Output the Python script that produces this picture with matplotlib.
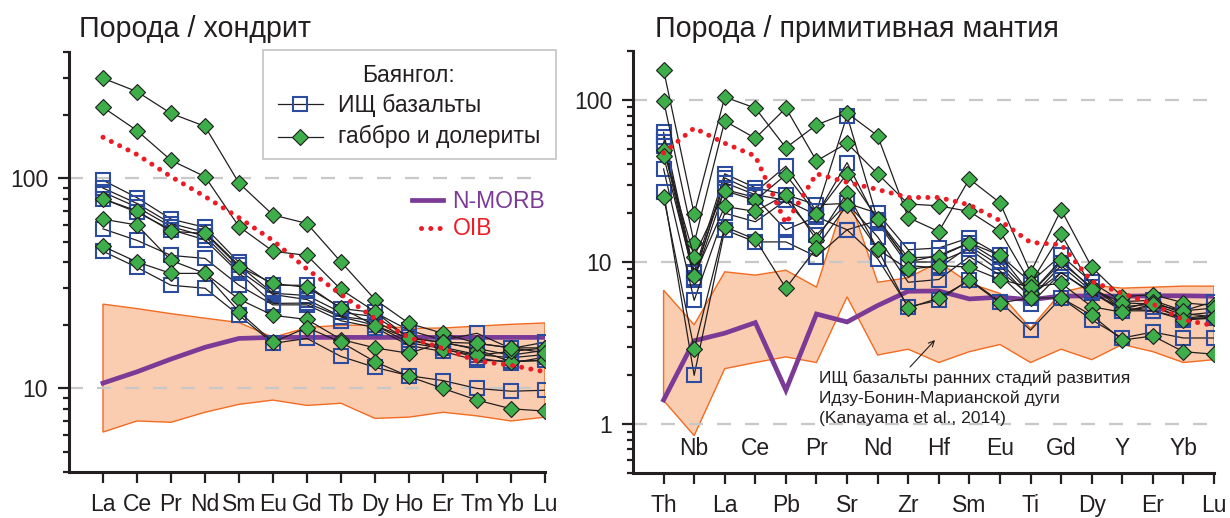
import matplotlib
matplotlib.use("Agg")
import matplotlib.pyplot as plt
from matplotlib.patches import Rectangle
from matplotlib.lines import Line2D
from matplotlib.ticker import FixedLocator, LogLocator, NullFormatter
from matplotlib.transforms import blended_transform_factory

plt.rcParams['font.family'] = ['Liberation Sans', 'DejaVu Sans']

# ---------------- chondrite-normalised REE ----------------
ree = ['La', 'Ce', 'Pr', 'Nd', 'Sm', 'Eu', 'Gd', 'Tb', 'Dy', 'Ho', 'Er', 'Tm', 'Yb', 'Lu']

ree_basalt = [
    [98, 81, 64, 58.5, 39.8, 31, 31, 24, 23, 18.9, 17, 18.3, 15.5, 16.6],
    [90, 76, 61, 55.4, 38.6, 28.4, 27.7, 23, 22, 17.5, 16.5, 15.5, 14.4, 15.2],
    [86, 73, 59, 53, 36.5, 28, 26.5, 22, 21, 17, 15.7, 14.5, 14.0, 14.5],
    [80, 69, 57, 51, 35.5, 25.4, 25.5, 21.9, 20, 16.5, 15.5, 14.0, 13.2, 14.1],
    [57.5, 50.7, 43, 41.6, 31, 25, 25, 21, 19.5, 16, 15, 13.6, 13.5, 13.6],
    [45, 37.7, 31, 30, 22.3, 16.4, 17.3, 14.2, 12.6, 11.5, 10.9, 10, 9.7, 9.8],
]
ree_gabbro = [
    [300, 259, 204, 177, 95, 67, 61, 40, 26.5, 20.4, 18.3, 16.4, 15.6, 15.6],
    [218, 169, 122, 102, 59, 45, 43, 29.6, 23.2, 17.3, 16.6, 15.3, 13.4, 13.6],
    [80, 70, 56, 54.7, 38, 31.6, 30.3, 24.2, 19.9, 17.3, 15.3, 14.4, 15.0, 15.6],
    [64, 60, 40.7, 35.3, 26.6, 22.3, 21.3, 17.1, 15.6, 14.7, 16.6, 16.4, 15.6, 14.8],
    [47.5, 40, 35.3, 35.3, 23.2, 16.6, 19.5, 16.6, 13.4, 11.4, 10, 8.8, 8.0, 7.8],
]
ree_oib = [157, 130, 102, 82, 65, 50.6, 37, 28, 21.5, 17.5, 15.5, 13.5, 12.9, 12]
ree_nmorb = [10.6, 12.0, 13.8, 15.7, 17.3, 17.5, 17.5, 17.5, 17.5, 17.5, 17.5, 17.5, 17.5, 17.5]
ree_arc_hi = [25.2, 24, 22.7, 21.6, 20.6, 17.5, 19.5, 20, 20, 19.3, 19.4, 19.8, 20.2, 20.5]
ree_arc_lo = [6.2, 7.0, 6.9, 7.7, 8.4, 8.8, 8.3, 8.5, 7.2, 7.3, 7.7, 7.4, 7.0, 7.3]

# ---------------- primitive-mantle-normalised spidergram ----------------
spider = ['Th', 'Nb', 'La', 'Ce', 'Pb', 'Pr', 'Sr', 'Nd', 'Zr', 'Hf',
          'Sm', 'Eu', 'Ti', 'Gd', 'Dy', 'Y', 'Er', 'Yb', 'Lu']

pm_basalt = [
    [63, 8.7, 35, 28.7, 26, 22.5, 23, 20, 11.9, 12.2, 14.1, 11.0, 7.5, 11.0, 7.5, 5.7, 5.8, 5.0, 5.7],
    [59, 8.0, 33, 27, 39, 20.5, 80, 18.2, 10, 11, 13.1, 10.0, 6.4, 9.9, 7.0, 5.3, 5.5, 4.7, 4.9],
    [55, 8.5, 30.8, 26, 24, 19.5, 41, 17.5, 9.5, 9.2, 12.5, 9.5, 6.0, 9.5, 6.6, 5.0, 5.3, 4.5, 4.7],
    [52, 7.8, 28, 25, 15.8, 19, 15.8, 18, 10, 10, 12, 8.8, 6.2, 8.6, 6.5, 5.0, 5.0, 4.4, 4.6],
    [37.5, 5.8, 20, 17.7, 24, 14.7, 23, 14.3, 7.5, 7.8, 10.8, 8.3, 5.5, 8.6, 6.4, 5.2, 5.0, 4.5, 4.5],
    [27, 2.0, 15.8, 13.3, 13.3, 10.8, 15.8, 10.5, 5.3, 5.8, 7.8, 5.7, 3.8, 6.0, 4.4, 3.4, 3.7, 3.4, 3.4],
]
pm_gabbro = [
    [153, 19.8, 104, 89, 50.6, 70, 83, 60, 18.8, 15.4, 32.5, 23.2, 8.6, 21, 9.3, 6.1, 6.3, 5.6, 5.4],
    [99, 13.1, 74, 58, 89, 42, 54, 35, 22.8, 22.2, 20.5, 15.5, 7.4, 14.9, 7.0, 5.1, 5.7, 4.8, 4.6],
    [49, 10.8, 27.5, 24, 34.5, 19.8, 35, 18.4, 10.6, 10.8, 13.1, 11.0, 6.4, 10.3, 6.8, 5.6, 5.5, 5.0, 5.2],
    [45, 8.2, 22, 20.5, 26, 13.7, 26.7, 12, 9, 9.5, 9.3, 7.8, 7.0, 7.4, 5.3, 4.9, 5.5, 4.4, 4.5],
    [25.3, 2.9, 16.5, 13.8, 6.9, 12.2, 22.5, 12, 5.2, 6.0, 7.7, 5.6, 6.0, 6.0, 4.7, 3.3, 3.5, 2.8, 2.7],
]
pm_oib = [47, 67, 54, 45, 17.3, 35, 31, 28, 25, 25, 22.5, 18, 13.2, 12.8, 7.6, 6.4, 5.5, 4.4, 4.05]
pm_nmorb = [1.41, 3.27, 3.64, 4.23, 1.62, 4.78, 4.27, 5.39, 6.6, 6.63, 5.92, 6.07, 5.85,
            6.17, 6.17, 6.15, 6.19, 6.19, 6.15]
pm_arc_hi = [6.7, 4.1, 8.7, 8.3, 8.9, 7.0, 27, 7.5, 8.0, 10.0, 7.4, 6.4, 3.9, 6.5, 7.2, 6.9, 7.0, 7.1, 7.1]
pm_arc_lo = [1.4, 0.85, 2.2, 2.4, 2.6, 2.4, 6.1, 2.67, 2.9, 2.4, 2.8, 3.1, 2.4, 2.9, 2.5, 3.1, 2.8, 2.4, 2.5]

# ---------------- styles ----------------
W, H = 1230, 518
INK = '#231F20'
BLUE = '#2B4C9F'
GREEN = '#3DAE49'
PURPLE = '#7B3A96'
RED = '#ED1C24'
BAND_FACE = '#FBCDB0'
BAND_EDGE = '#F26B21'
GRID = '#C8C8C8'
TICK_FS = 16.5
LABEL_FS = 16.5
TITLE_FS = 20.6

sq_style = dict(color=INK, lw=0.9, marker='s', ms=9.5, mfc='none', mec=BLUE, mew=1.5)
dm_style = dict(color=INK, lw=0.9, marker='D', ms=8, mfc=GREEN, mec='#1E1E1E', mew=0.8)
oib_style = dict(color=RED, lw=3.6, ls=(0, (0.01, 1.85)), dash_capstyle='round', zorder=6)
morb_style = dict(color=PURPLE, lw=3.4, solid_joinstyle='miter', zorder=2)

fig = plt.figure(figsize=(W / 100, H / 100), dpi=100)


def px_axes(x0, y0, x1, y1):
    return fig.add_axes([x0 / W, 1 - y1 / H, (x1 - x0) / W, (y1 - y0) / H])


def style_axes(ax, ylim, majors, major_labels):
    ax.set_yscale('log')
    ax.set_ylim(*ylim)
    for s in ('top', 'right'):
        ax.spines[s].set_visible(False)
    for s in ('left', 'bottom'):
        ax.spines[s].set_linewidth(2.2)
        ax.spines[s].set_color(INK)
    ax.yaxis.set_major_locator(FixedLocator(majors))
    ax.set_yticklabels(major_labels)
    ax.yaxis.set_minor_locator(LogLocator(base=10, subs=range(2, 10)))
    ax.yaxis.set_minor_formatter(NullFormatter())
    ax.tick_params(axis='y', which='major', length=8, width=1.6, pad=7,
                   labelsize=TICK_FS, colors=INK)
    ax.tick_params(axis='y', which='minor', length=4.5, width=1.6, colors=INK)
    ax.tick_params(axis='x', which='major', direction='out', length=8, width=1.6,
                   pad=7, labelsize=TICK_FS, colors=INK)
    for v in majors:
        ax.axhline(v, color=GRID, lw=1.6, dashes=(6.3, 6.3), zorder=1.5)
    ax.set_facecolor('none')


def band(ax, x, lo, hi):
    xs = list(x) + list(x)[::-1]
    ys = list(hi) + list(lo)[::-1]
    ax.fill(xs, ys, facecolor=BAND_FACE, edgecolor=BAND_EDGE, lw=1.0, zorder=1)


# ---------------- left panel: REE / chondrite ----------------
axL = px_axes(69, 52, 545, 472)
xL = list(range(len(ree)))
style_axes(axL, (4, 400), [10, 100], ['10', '100'])
axL.set_xlim(-1, len(ree) - 1)
axL.set_xticks(xL)
axL.set_xticklabels(ree)
band(axL, xL, ree_arc_lo, ree_arc_hi)
axL.plot(xL, ree_nmorb, **morb_style)
for ser_b, ser_g in zip(ree_basalt, ree_gabbro + [None]):
    axL.plot(xL, ser_b, zorder=3, **sq_style)
    if ser_g is not None:
        axL.plot(xL, ser_g, zorder=4, **dm_style)
axL.plot(xL, ree_oib, **oib_style)

# ---------------- right panel: spidergram / primitive mantle ----------------
axR = px_axes(633, 51, 1214, 473)
xR = list(range(len(spider)))
style_axes(axR, (0.5, 200), [1, 10, 100], ['1', '10', '100'])
axR.set_xlim(-1, len(spider) - 1)
axR.set_xticks(xR)
axR.set_xticklabels([el if i % 2 == 0 else '' for i, el in enumerate(spider)])
trans = blended_transform_factory(axR.transData, axR.transAxes)
for i, el in enumerate(spider):
    if i % 2 == 1:
        axR.text(i, 0.043, el, transform=trans, ha='center', va='baseline',
                 fontsize=TICK_FS, color=INK)
band(axR, xR, pm_arc_lo, pm_arc_hi)
axR.plot(xR, pm_nmorb, **morb_style)
for ser_b, ser_g in zip(pm_basalt, pm_gabbro + [None]):
    axR.plot(xR, ser_b, zorder=3, **sq_style)
    if ser_g is not None:
        axR.plot(xR, ser_g, zorder=4, **dm_style)
axR.plot(xR, pm_oib, **oib_style)

# ---------------- overlay in pixel coordinates: titles, legend, notes ----------------
ov = fig.add_axes([0, 0, 1, 1])
ov.set_xlim(0, W)
ov.set_ylim(H, 0)
ov.axis('off')
ov.set_facecolor('none')

ov.text(79, 37, 'Порода / хондрит', fontsize=TITLE_FS, color=INK, va='baseline')
ov.text(655, 37, 'Порода / примитивная мантия', fontsize=TITLE_FS, color=INK, va='baseline')

ov.add_patch(Rectangle((263, 50), 293, 109, facecolor='white', edgecolor='#BFBFBF', lw=1.1))
ov.text(409, 82, 'Баянгол:', fontsize=LABEL_FS, color=INK, ha='center', va='baseline')
ov.add_line(Line2D([278, 323], [104, 104], **dict(sq_style, marker=None)))
ov.add_line(Line2D([300], [104], **dict(sq_style, ls='none')))
ov.text(338, 112, 'ИЩ базальты', fontsize=LABEL_FS, color=INK, va='baseline')
ov.add_line(Line2D([278, 323], [137, 137], **dict(dm_style, marker=None)))
ov.add_line(Line2D([300], [137], **dict(dm_style, ls='none')))
ov.text(338, 143, 'габбро и долериты', fontsize=LABEL_FS, color=INK, va='baseline')

ov.add_line(Line2D([412, 443], [200, 200], color=PURPLE, lw=3.4))
ov.text(452, 208, 'N-MORB', fontsize=LABEL_FS, color=PURPLE, va='baseline')
ov.add_line(Line2D([421, 443], [228, 228], color=RED, lw=3.6, ls=(0, (0.01, 1.85)),
                   dash_capstyle='round'))
ov.text(453, 235, 'OIB', fontsize=LABEL_FS, color=RED, va='baseline')

note = ['ИЩ базальты ранних стадий развития',
        'Идзу-Бонин-Марианской дуги',
        '(Kanayama et al., 2014)']
for k, line in enumerate(note):
    ov.text(819, 383 + 20 * k, line, fontsize=12.6, color=INK, va='baseline')
ov.annotate('', xy=(935, 340), xytext=(910, 367),
            arrowprops=dict(arrowstyle='->', lw=0.8, color=INK, shrinkA=0, shrinkB=0))

fig.savefig('out.png', dpi=100)
